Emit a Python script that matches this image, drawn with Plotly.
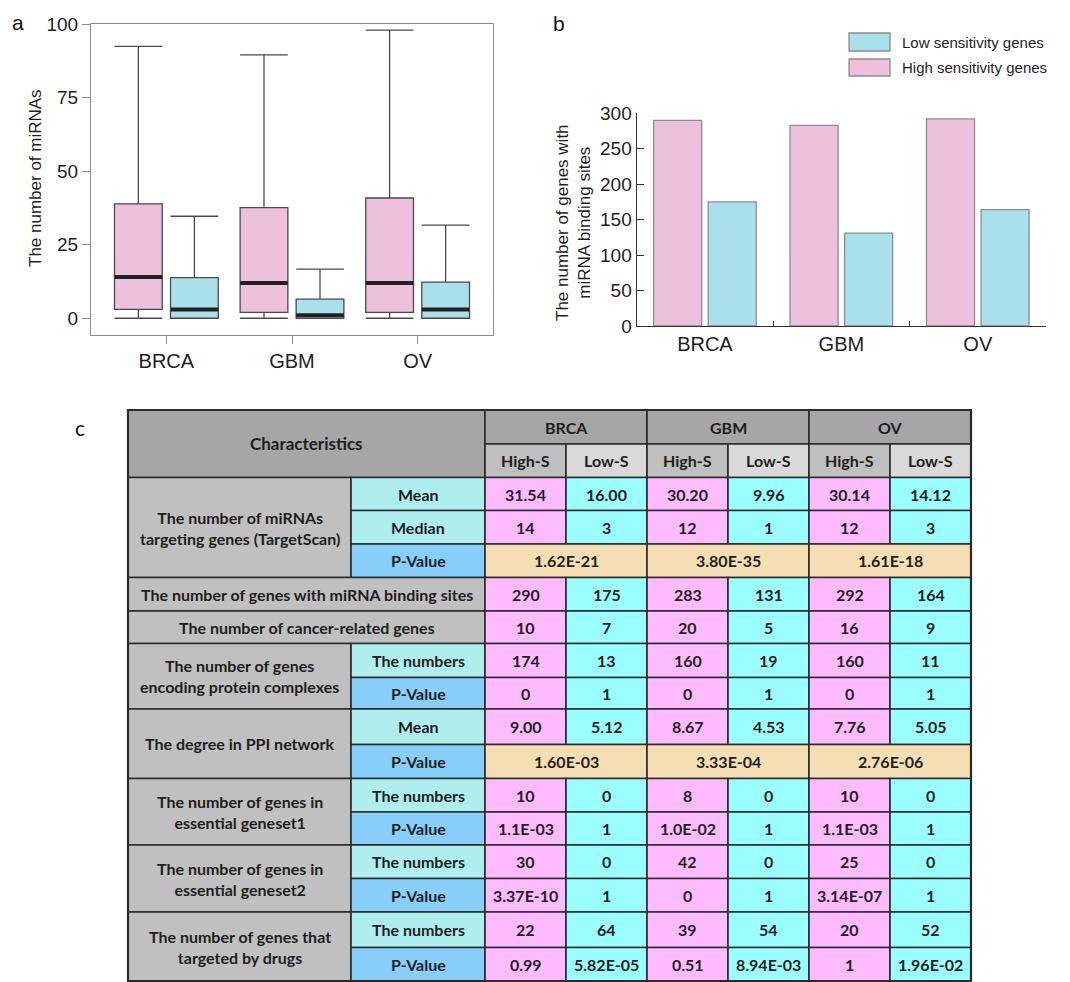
import plotly.graph_objects as go

W, H = 1070, 982

# ---------------- data ----------------
cancers = ["BRCA", "GBM", "OV"]

# panel a: box statistics (number of miRNAs)
high_upper = [92.5, 89.6, 98.0]
high_q3 = [38.9, 37.6, 40.9]
high_median = [14, 12, 12]
high_q1 = [3, 2, 2]
high_lower = [0, 0, 0]

low_upper = [34.7, 16.7, 31.7]
low_q3 = [13.8, 6.5, 12.3]
low_median = [3, 1, 3]
low_q1 = [0, 0, 0]
low_lower = [0, 0, 0]

# panel b: number of genes with miRNA binding sites
high_binding = [290, 283, 292]
low_binding = [175, 131, 164]

series_names = ["Low sensitivity genes", "High sensitivity genes"]

# panel c: table contents
table_groups = ["BRCA", "GBM", "OV"]
table_subheads = ["High-S", "Low-S"]
mirna_mean = ["31.54", "16.00", "30.20", "9.96", "30.14", "14.12"]
mirna_median = ["14", "3", "12", "1", "12", "3"]
mirna_p = ["1.62E-21", "3.80E-35", "1.61E-18"]
binding_sites = ["290", "175", "283", "131", "292", "164"]
cancer_related = ["10", "7", "20", "5", "16", "9"]
complex_numbers = ["174", "13", "160", "19", "160", "11"]
complex_p = ["0", "1", "0", "1", "0", "1"]
ppi_mean = ["9.00", "5.12", "8.67", "4.53", "7.76", "5.05"]
ppi_p = ["1.60E-03", "3.33E-04", "2.76E-06"]
ess1_numbers = ["10", "0", "8", "0", "10", "0"]
ess1_p = ["1.1E-03", "1", "1.0E-02", "1", "1.1E-03", "1"]
ess2_numbers = ["30", "0", "42", "0", "25", "0"]
ess2_p = ["3.37E-10", "1", "0", "1", "3.14E-07", "1"]
drug_numbers = ["22", "64", "39", "54", "20", "52"]
drug_p = ["0.99", "5.82E-05", "0.51", "8.94E-03", "1", "1.96E-02"]

table_rows = [
    ("The number of miRNAs<br>targeting genes (TargetScan)",
     [("Mean", mirna_mean), ("Median", mirna_median), ("P-Value", mirna_p)]),
    ("The number of genes with miRNA binding sites", [(None, binding_sites)]),
    ("The number of cancer-related genes", [(None, cancer_related)]),
    ("The number of genes<br>encoding protein complexes",
     [("The numbers", complex_numbers), ("P-Value", complex_p)]),
    ("The degree in PPI network", [("Mean", ppi_mean), ("P-Value", ppi_p)]),
    ("The number of genes in<br>essential geneset1",
     [("The numbers", ess1_numbers), ("P-Value", ess1_p)]),
    ("The number of genes in<br>essential geneset2",
     [("The numbers", ess2_numbers), ("P-Value", ess2_p)]),
    ("The number of genes that<br>targeted by drugs",
     [("The numbers", drug_numbers), ("P-Value", drug_p)]),
]

# ---------------- styles ----------------
PINK = "#EDC0DC"
CYAN = "#A9E0EB"
AX_FONT = "Liberation Sans, Arial, sans-serif"
TB_FONT = "Lato, Noto Sans, sans-serif"
TXT = "#1e1e1e"


def px_x(x):
    return x / W


def px_y(y):
    return 1 - y / H


fig = go.Figure()

# ---------------- panel a: boxes ----------------
box_off = 0.223
box_w = 0.38
for off, fill, q1, med, q3, lo, up in [
    (-box_off, PINK, high_q1, high_median, high_q3, high_lower, high_upper),
    (box_off, CYAN, low_q1, low_median, low_q3, low_lower, low_upper),
]:
    pos = [i + off for i in range(len(cancers))]
    fig.add_trace(go.Box(
        x=pos, q1=q1, median=med, q3=q3, lowerfence=lo, upperfence=up,
        width=box_w, whiskerwidth=1, fillcolor=fill,
        line=dict(color="#4a4a4a", width=1.3),
        boxpoints=False, showlegend=False, hoverinfo="skip",
        xaxis="x", yaxis="y"))
    mx, my = [], []
    for p, m in zip(pos, med):
        mx += [p - box_w / 2, p + box_w / 2, None]
        my += [m, m, None]
    fig.add_trace(go.Scatter(
        x=mx, y=my, mode="lines", line=dict(color="#222222", width=4),
        showlegend=False, hoverinfo="skip", xaxis="x", yaxis="y"))

# ---------------- panel b: bars ----------------
fig.add_trace(go.Bar(
    x=cancers, y=high_binding, name=series_names[1],
    marker=dict(color=PINK, line=dict(color="#8c8c8c", width=1.3)),
    showlegend=False, xaxis="x2", yaxis="y2"))
fig.add_trace(go.Bar(
    x=cancers, y=low_binding, name=series_names[0],
    marker=dict(color=CYAN, line=dict(color="#8c8c8c", width=1.3)),
    showlegend=False, xaxis="x2", yaxis="y2"))

shapes = []
annotations = []

# manual legend for panel b
for (name, fill, ytop, ybot, ymid) in [
    (series_names[0], CYAN, 33, 51, 42),
    (series_names[1], PINK, 59, 76, 67.5),
]:
    shapes.append(dict(type="rect", xref="paper", yref="paper",
                       x0=px_x(849), x1=px_x(890), y0=px_y(ybot), y1=px_y(ytop),
                       fillcolor=fill, line=dict(color="#8c8c8c", width=1.3)))
    annotations.append(dict(xref="paper", yref="paper", x=px_x(900), y=px_y(ymid),
                            text=name, showarrow=False, xanchor="left", yanchor="middle",
                            font=dict(family=AX_FONT, size=15, color=TXT)))

# axis titles and panel letters
annotations.append(dict(xref="paper", yref="paper", x=px_x(35), y=px_y(178),
                        text="The number of miRNAs", textangle=-90, showarrow=False,
                        xanchor="center", yanchor="middle",
                        font=dict(family=AX_FONT, size=17, color=TXT)))
annotations.append(dict(xref="paper", yref="paper", x=px_x(573), y=px_y(223),
                        text="The number of genes with<br>miRNA binding sites", textangle=-90,
                        showarrow=False, xanchor="center", yanchor="middle",
                        font=dict(family=AX_FONT, size=17, color=TXT)))
for letter, lx, ly, fam in [("a", 18, 22, AX_FONT), ("b", 559, 24, AX_FONT), ("c", 80, 427, TB_FONT)]:
    annotations.append(dict(xref="paper", yref="paper", x=px_x(lx), y=px_y(ly), text=letter,
                            showarrow=False, xanchor="center", yanchor="middle",
                            font=dict(family=fam, size=21, color="#111")))

# ---------------- panel c: table ----------------
col_edges = [128, 351, 485, 566, 647, 728, 809, 890, 971]
row_edges = [410, 444, 477.5, 510.5, 544, 577.5, 611, 643.5, 677.5, 709,
             744.5, 778.5, 812, 845, 878.5, 912, 947.5, 981]
BORDER = "#2a2a2a"
C_HEAD = "#A6A6A6"
C_HIGH_H = "#BFBFBF"
C_LOW_H = "#D9D9D9"
C_LABEL = "#C0C0C0"
C_SUB = "#AFEEEE"
C_PSUB = "#87CEFA"
C_HIGH = "#FFBBFF"
C_LOW = "#9CFFFF"
C_MERGED = "#F5DEB3"


def cell(c0, c1, r0, r1, text, fill, size=16):
    shapes.append(dict(type="rect", xref="paper", yref="paper",
                       x0=px_x(col_edges[c0]), x1=px_x(col_edges[c1]),
                       y0=px_y(row_edges[r1]), y1=px_y(row_edges[r0]),
                       fillcolor=fill, line=dict(color=BORDER, width=1.6)))
    annotations.append(dict(xref="paper", yref="paper",
                            x=px_x((col_edges[c0] + col_edges[c1]) / 2),
                            y=px_y((row_edges[r0] + row_edges[r1]) / 2),
                            text=text, showarrow=False, xanchor="center", yanchor="middle",
                            font=dict(family=TB_FONT, size=size, color=TXT, weight="bold")))


cell(0, 2, 0, 2, "Characteristics", C_HEAD, 17)
for g, name in enumerate(table_groups):
    cell(2 + 2 * g, 4 + 2 * g, 0, 1, name, C_HEAD)
    for s, sub in enumerate(table_subheads):
        cell(2 + 2 * g + s, 3 + 2 * g + s, 1, 2, sub, C_HIGH_H if s == 0 else C_LOW_H)

r = 2
for label, subrows in table_rows:
    n = len(subrows)
    if subrows[0][0] is None:
        cell(0, 2, r, r + 1, label, C_LABEL)
    else:
        cell(0, 1, r, r + n, label, C_LABEL)
    for k, (sub, vals) in enumerate(subrows):
        rr = r + k
        if sub is not None:
            cell(1, 2, rr, rr + 1, sub, C_PSUB if sub == "P-Value" else C_SUB)
        if len(vals) == 3:
            for g, v in enumerate(vals):
                cell(2 + 2 * g, 4 + 2 * g, rr, rr + 1, v, C_MERGED)
        else:
            for j, v in enumerate(vals):
                cell(2 + j, 3 + j, rr, rr + 1, v, C_HIGH if j % 2 == 0 else C_LOW)
    r += n

shapes.append(dict(type="rect", xref="paper", yref="paper",
                   x0=px_x(col_edges[0]), x1=px_x(col_edges[-1]),
                   y0=px_y(row_edges[-1]), y1=px_y(row_edges[0]),
                   line=dict(color=BORDER, width=2.2)))

# ---------------- layout ----------------
fig.update_layout(
    width=W, height=H,
    autosize=False,
    margin=dict(l=0, r=0, t=0, b=0, pad=0, autoexpand=False),
    paper_bgcolor="white", plot_bgcolor="white",
    showlegend=False,
    barmode="group", bargap=0.2, bargroupgap=0.12,
    shapes=shapes, annotations=annotations,
    xaxis=dict(domain=[px_x(91), px_x(493)], range=[-0.6, 2.6],
               tickvals=[0, 1, 2], ticktext=cancers, automargin=False,
               ticks="outside", ticklen=8, tickcolor="#8c8c8c", tickwidth=1.2,
               showline=True, mirror=True, linecolor="#8c8c8c", linewidth=1.2,
               showgrid=False, zeroline=False,
               tickfont=dict(family=AX_FONT, size=20, color=TXT), anchor="y"),
    yaxis=dict(domain=[px_y(335), px_y(24.3)], range=[-5.7, 100],
               tickvals=[0, 25, 50, 75, 100], automargin=False,
               ticks="outside", ticklen=8, tickcolor="#8c8c8c", tickwidth=1.2,
               showline=True, mirror=True, linecolor="#8c8c8c", linewidth=1.2,
               showgrid=False, zeroline=False,
               tickfont=dict(family=AX_FONT, size=19, color=TXT), anchor="x"),
    xaxis2=dict(domain=[px_x(636.7), px_x(1046)], type="category", automargin=False,
                tickson="boundaries", ticks="inside", ticklen=5,
                tickcolor="#333", tickwidth=1.3,
                showline=True, linecolor="#333", linewidth=1.3,
                showgrid=False, zeroline=False,
                tickfont=dict(family=AX_FONT, size=20, color=TXT), anchor="y2"),
    yaxis2=dict(domain=[px_y(326), px_y(113.3)], range=[0, 300], dtick=50, automargin=False,
                ticks="inside", ticklen=7, tickcolor="#333", tickwidth=1.3,
                showline=True, linecolor="#333", linewidth=1.3,
                showgrid=False, zeroline=False,
                tickfont=dict(family=AX_FONT, size=19, color=TXT), anchor="x2"),
)

fig.write_html(
    "out.html",
    config={"displayModeBar": False},
    post_script="document.body.style.margin='0px';document.body.style.overflow='hidden';",
)
